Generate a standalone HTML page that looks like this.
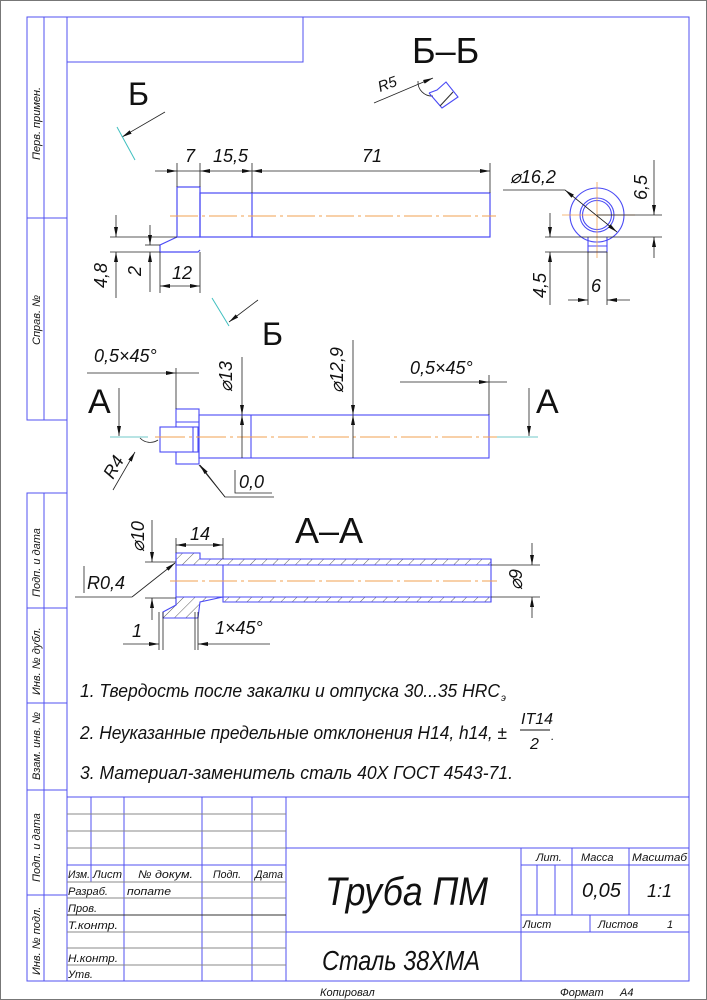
<!DOCTYPE html>
<html><head><meta charset="utf-8"><style>
html,body{margin:0;padding:0;background:#fff}
svg{display:block}
text{font-family:"Liberation Sans","Noto Sans CJK SC",sans-serif;font-style:italic;fill:#111}
</style></head><body>
<svg width="707" height="1000" viewBox="0 0 707 1000" xmlns="http://www.w3.org/2000/svg">
<defs>
<marker id="a" viewBox="0 0 10 4" refX="10" refY="2" markerWidth="10" markerHeight="4" orient="auto-start-reverse" markerUnits="userSpaceOnUse"><path d="M0,0L10,2L0,4z" fill="#111"/></marker>
<pattern id="h" patternUnits="userSpaceOnUse" width="8" height="8" patternTransform="rotate(45)"><line x1="0" y1="0" x2="0" y2="8" stroke="#333" stroke-width="0.8"/></pattern>
</defs>
<rect x="0.5" y="0.5" width="706" height="999" fill="none" stroke="#777"/>
<!-- frame -->
<g stroke="#5050f0" stroke-width="1" fill="none">
<rect x="67" y="17" width="622" height="964"/>
<rect x="67" y="17" width="236" height="45"/>
<rect x="27" y="17" width="40" height="403"/>
<line x1="44" y1="17" x2="44" y2="420"/>
<line x1="27" y1="218" x2="67" y2="218"/>
<rect x="27" y="493" width="40" height="488"/>
<line x1="44" y1="493" x2="44" y2="981"/>
<line x1="27" y1="608" x2="67" y2="608"/>
<line x1="27" y1="703" x2="67" y2="703"/>
<line x1="27" y1="790" x2="67" y2="790"/>
<line x1="27" y1="895" x2="67" y2="895"/>
</g>
<g font-size="11">
<text transform="translate(40,160) rotate(-90)">Перв. примен.</text>
<text transform="translate(40,345) rotate(-90)">Справ. №</text>
<text transform="translate(40,597) rotate(-90)">Подп. и дата</text>
<text transform="translate(40,695) rotate(-90)">Инв. № дубл.</text>
<text transform="translate(40,780) rotate(-90)">Взам. инв. №</text>
<text transform="translate(40,882) rotate(-90)">Подп. и дата</text>
<text transform="translate(40,975) rotate(-90)">Инв. № подл.</text>
</g>
<!-- title block -->
<g stroke="#5050f0" stroke-width="1" fill="none">
<line x1="67" y1="797" x2="689" y2="797"/>
<line x1="91" y1="797" x2="91" y2="882"/>
<line x1="124" y1="797" x2="124" y2="981"/>
<line x1="202" y1="797" x2="202" y2="981"/>
<line x1="252" y1="797" x2="252" y2="981"/>
<line x1="286" y1="797" x2="286" y2="981"/>
<line x1="286" y1="848" x2="689" y2="848"/>
<line x1="286" y1="932" x2="689" y2="932"/>
<line x1="521" y1="848" x2="521" y2="981"/>
<line x1="521" y1="865" x2="689" y2="865"/>
<line x1="521" y1="915" x2="689" y2="915"/>
<line x1="572" y1="848" x2="572" y2="915"/>
<line x1="629" y1="848" x2="629" y2="915"/>
<line x1="590" y1="915" x2="590" y2="932"/>
<line x1="537" y1="865" x2="537" y2="915"/>
<line x1="555" y1="865" x2="555" y2="915"/>
<line x1="67" y1="865" x2="286" y2="865"/>
</g>
<g stroke="#888" stroke-width="1">
<line x1="67" y1="814" x2="286" y2="814"/>
<line x1="67" y1="831" x2="286" y2="831"/>
<line x1="67" y1="848" x2="286" y2="848"/>
<line x1="67" y1="882" x2="286" y2="882"/>
<line x1="67" y1="898" x2="286" y2="898"/>
<line x1="67" y1="915" x2="286" y2="915" stroke="#333"/>
<line x1="67" y1="932" x2="286" y2="932"/>
<line x1="67" y1="948" x2="286" y2="948"/>
<line x1="67" y1="965" x2="286" y2="965"/>
</g>
<g font-size="11">
<text x="68" y="878" textLength="22" lengthAdjust="spacingAndGlyphs">Изм.</text>
<text x="93" y="878" textLength="29" lengthAdjust="spacingAndGlyphs">Лист</text>
<text x="138" y="878" textLength="55" lengthAdjust="spacingAndGlyphs">№ докум.</text>
<text x="213" y="878" textLength="28" lengthAdjust="spacingAndGlyphs">Подп.</text>
<text x="255" y="878" textLength="28" lengthAdjust="spacingAndGlyphs">Дата</text>
<text x="68" y="895" textLength="40" lengthAdjust="spacingAndGlyphs">Разраб.</text>
<text x="127" y="895" textLength="44" lengthAdjust="spacingAndGlyphs">попате</text>
<text x="68" y="912">Пров.</text>
<text x="68" y="929" textLength="50" lengthAdjust="spacingAndGlyphs">Т.контр.</text>
<text x="68" y="962" textLength="50" lengthAdjust="spacingAndGlyphs">Н.контр.</text>
<text x="68" y="978">Утв.</text>
<text x="536" y="861">Лит.</text>
<text x="581" y="861">Масса</text>
<text x="632" y="861" textLength="55" lengthAdjust="spacingAndGlyphs">Масштаб</text>
<text x="523" y="928">Лист</text>
<text x="598" y="928">Листов</text>
<text x="667" y="928">1</text>
<text x="320" y="996">Копировал</text>
<text x="560" y="996">Формат</text>
<text x="620" y="996">A4</text>
</g>
<text x="582" y="897" font-size="20">0,05</text>
<text x="647" y="897" font-size="18">1:1</text>
<text x="325" y="905" font-size="40" textLength="163" lengthAdjust="spacingAndGlyphs">Труба ПМ</text>
<text x="322" y="970" font-size="28" textLength="158" lengthAdjust="spacingAndGlyphs">Сталь 38ХМА</text>
<!-- notes -->
<g font-size="18">
<text x="80" y="697" textLength="420" lengthAdjust="spacingAndGlyphs">1.  Твердость после закалки и отпуска 30...35 HRC</text>
<text x="501" y="701" font-size="10">э</text>
<text x="80" y="739" textLength="427" lengthAdjust="spacingAndGlyphs">2.  Неуказанные предельные отклонения H14, h14, ±</text>
<text x="521" y="724" font-size="16">IT14</text>
<line x1="520" y1="730" x2="550" y2="730" stroke="#111"/>
<text x="530" y="749" font-size="16">2</text>
<text x="551" y="740" font-size="12">.</text>
<text x="80" y="779" textLength="433" lengthAdjust="spacingAndGlyphs">3.  Материал-заменитель сталь 40Х ГОСТ 4543-71.</text>
</g>
<!-- top view -->
<g stroke="#4a4af5" stroke-width="1.2" fill="none">
<rect x="177" y="187" width="23" height="50"/>
<rect x="200" y="193" width="290" height="44"/>
<line x1="252" y1="193" x2="252" y2="237"/>
<polyline points="177,237 160,245 160,252 198,252 200,250"/>
</g>
<line x1="170" y1="216" x2="496" y2="216" stroke="#f0a050" stroke-dasharray="28,4,3,4"/>
<g stroke="#222" stroke-width="0.8" fill="none">
<line x1="177" y1="163" x2="177" y2="187"/>
<line x1="200" y1="163" x2="200" y2="187"/>
<line x1="252" y1="163" x2="252" y2="193"/>
<line x1="490" y1="163" x2="490" y2="193"/>
<line x1="155" y1="171" x2="177" y2="171" marker-end="url(#a)"/>
<line x1="177" y1="171" x2="200" y2="171"/>
<line x1="200" y1="171" x2="252" y2="171" marker-start="url(#a)" marker-end="url(#a)"/>
<line x1="252" y1="171" x2="490" y2="171" marker-start="url(#a)" marker-end="url(#a)"/>
<line x1="110" y1="237" x2="177" y2="237"/>
<line x1="110" y1="252" x2="160" y2="252"/>
<line x1="145" y1="245" x2="160" y2="245"/>
<line x1="116" y1="215" x2="116" y2="237" marker-end="url(#a)"/>
<line x1="116" y1="252" x2="116" y2="298" marker-start="url(#a)"/>
<line x1="150" y1="225" x2="150" y2="245" marker-end="url(#a)"/>
<line x1="150" y1="252" x2="150" y2="292" marker-start="url(#a)"/>
<line x1="160" y1="252" x2="160" y2="293"/>
<line x1="200" y1="252" x2="200" y2="293"/>
<line x1="160" y1="286" x2="200" y2="286" marker-start="url(#a)" marker-end="url(#a)"/>
<line x1="165" y1="112" x2="122" y2="137" marker-end="url(#a)"/>
<line x1="258" y1="300" x2="229" y2="322" marker-end="url(#a)"/>
</g>
<g stroke="#40c0c0"><line x1="117" y1="127" x2="135" y2="160"/><line x1="212" y1="298" x2="229" y2="326"/></g>
<g font-size="18">
<text x="185" y="162">7</text>
<text x="213" y="162">15,5</text>
<text x="362" y="162">71</text>
<text x="172" y="279">12</text>
<text transform="translate(107,288) rotate(-90)">4,8</text>
<text transform="translate(141,276) rotate(-90)">2</text>
</g>
<text x="128" y="105" font-size="32" style="font-style:normal">Б</text>
<text x="262" y="345" font-size="32" style="font-style:normal">Б</text>
<!-- B-B -->
<text x="412" y="63" font-size="36" style="font-style:normal">Б–Б</text>
<text transform="translate(380,92) rotate(-20)" font-size="15">R5</text>
<line x1="374" y1="103" x2="433" y2="78" stroke="#222" stroke-width="0.8" marker-end="url(#a)"/>
<path d="M418,81 A14,14 0 0 0 433,96" stroke="#222" fill="none" stroke-width="0.8"/>
<g stroke="#4a4af5" fill="none" stroke-width="1.1"><polyline points="429,93 437,90 446,82 458,97 442,108 429,93"/><line x1="440" y1="106" x2="453" y2="92" stroke="#333"/></g>
<g stroke="#4a4af5" fill="none" stroke-width="1.1">
<circle cx="597" cy="215" r="27"/>
<circle cx="597" cy="215" r="17"/>
<circle cx="597" cy="215" r="14.5"/>
<polyline points="588,237 588,252 607,252 607,237"/>
<line x1="588" y1="246" x2="607" y2="246"/>
</g>
<g stroke="#f0a050" stroke-width="0.8"><line x1="562" y1="215" x2="635" y2="215"/><line x1="597" y1="182" x2="597" y2="258"/></g>
<g stroke="#222" stroke-width="0.8" fill="none">
<line x1="597" y1="215" x2="662" y2="215"/>
<line x1="545" y1="237" x2="662" y2="237"/>
<line x1="545" y1="252" x2="607" y2="252"/>
<line x1="654" y1="160" x2="654" y2="215" marker-end="url(#a)"/>
<line x1="654" y1="237" x2="654" y2="258" marker-start="url(#a)"/>
<line x1="550" y1="213" x2="550" y2="237" marker-end="url(#a)"/>
<line x1="550" y1="252" x2="550" y2="305" marker-start="url(#a)"/>
<line x1="588" y1="252" x2="588" y2="305"/>
<line x1="607" y1="252" x2="607" y2="305"/>
<line x1="568" y1="300" x2="588" y2="300" marker-end="url(#a)"/>
<line x1="607" y1="300" x2="630" y2="300" marker-start="url(#a)"/>
<polyline points="503,190 565,190 617,232" />
<line x1="565" y1="190" x2="617" y2="232" marker-start="url(#a)" marker-end="url(#a)"/>
</g>
<g font-size="18">
<text x="510" y="183">⌀16,2</text>
<text transform="translate(647,200) rotate(-90)">6,5</text>
<text transform="translate(546,298) rotate(-90)">4,5</text>
<text x="591" y="292">6</text>
</g>
<!-- middle view -->
<g stroke="#4a4af5" stroke-width="1.1" fill="none">
<rect x="176" y="409" width="23" height="55"/>
<line x1="176" y1="422" x2="199" y2="422"/>
<line x1="176" y1="452" x2="199" y2="452"/>
<rect x="160" y="427" width="38" height="25" fill="#fff"/>
<line x1="193" y1="427" x2="193" y2="452"/>
<rect x="199" y="415" width="290" height="43"/>
<line x1="251" y1="415" x2="251" y2="458"/>
</g>
<line x1="155" y1="437" x2="497" y2="437" stroke="#f0a050" stroke-dasharray="30,4,3,4"/>
<g stroke="#70c8c8"><line x1="110" y1="437" x2="148" y2="437"/><line x1="497" y1="437" x2="538" y2="437"/></g>
<g stroke="#222" stroke-width="0.8" fill="none">
<line x1="119" y1="388" x2="119" y2="436" marker-end="url(#a)"/>
<line x1="529" y1="388" x2="529" y2="436" marker-end="url(#a)"/>
<line x1="242" y1="357" x2="242" y2="415" marker-end="url(#a)"/>
<line x1="242" y1="415" x2="242" y2="458" marker-start="url(#a)"/>
<line x1="353" y1="340" x2="353" y2="415" marker-end="url(#a)"/>
<line x1="353" y1="415" x2="353" y2="458" marker-start="url(#a)"/>
<line x1="87" y1="373" x2="176" y2="373" marker-end="url(#a)"/>
<line x1="199" y1="373" x2="176" y2="373"/>
<line x1="176" y1="368" x2="176" y2="409"/>
<line x1="400" y1="382" x2="489" y2="382" marker-end="url(#a)"/>
<line x1="507" y1="382" x2="489" y2="382"/>
<line x1="489" y1="375" x2="489" y2="415"/>
<path d="M140,438 A14,14 0 0 0 158,440" />
<line x1="113" y1="490" x2="135" y2="452" marker-end="url(#a)"/>
<polyline points="274,497 225,497 199,465"/>
<line x1="225" y1="497" x2="200" y2="465" marker-end="url(#a)"/>
<polyline points="235,470 235,493 272,493"/>
</g>
<g font-size="18">
<text x="94" y="362">0,5×45°</text>
<text x="410" y="374">0,5×45°</text>
<text transform="translate(232,392) rotate(-90)">⌀13</text>
<text transform="translate(343,393) rotate(-90)">⌀12,9</text>
<text transform="translate(113,480) rotate(-60)">R4</text>
<text x="239" y="488">0,0</text>
</g>
<text x="88" y="413" font-size="34" style="font-style:normal">A</text>
<text x="536" y="413" font-size="34" style="font-style:normal">A</text>
<!-- A-A -->
<text x="295" y="543" font-size="36" style="font-style:normal">A–A</text>
<g stroke="#4a4af5" stroke-width="1.1">
<path d="M176,553 L200,553 L200,559 L491,559 L491,565 L176,565 Z" fill="url(#h)"/>
<path d="M223,597 L491,597 L491,602 L223,602 Z M176,597 L223,597 L200,602 L198,618 L163,618 L163,612 L176,605 Z" fill="url(#h)"/>
<line x1="176" y1="553" x2="176" y2="605" fill="none"/>
<line x1="223" y1="565" x2="223" y2="597"/>
<line x1="491" y1="559" x2="491" y2="602"/>
<line x1="176" y1="565" x2="491" y2="565"/>
<line x1="176" y1="597" x2="491" y2="597"/>
</g>
<line x1="170" y1="581" x2="497" y2="581" stroke="#f0a050" stroke-dasharray="28,4,3,4"/>
<g stroke="#222" stroke-width="0.8" fill="none">
<line x1="491" y1="565" x2="540" y2="565"/>
<line x1="491" y1="597" x2="540" y2="597"/>
<line x1="532" y1="543" x2="532" y2="565" marker-end="url(#a)"/>
<line x1="532" y1="597" x2="532" y2="618" marker-start="url(#a)"/>
<line x1="145" y1="562" x2="176" y2="562"/>
<line x1="145" y1="598" x2="176" y2="598"/>
<line x1="152" y1="520" x2="152" y2="562" marker-end="url(#a)"/>
<line x1="152" y1="598" x2="152" y2="620" marker-start="url(#a)"/>
<line x1="176" y1="538" x2="176" y2="553"/>
<line x1="223" y1="538" x2="223" y2="559"/>
<line x1="176" y1="545" x2="223" y2="545" marker-start="url(#a)" marker-end="url(#a)"/>
<polyline points="75,597 132,597"/>
<line x1="132" y1="597" x2="175" y2="563" marker-end="url(#a)"/>
<line x1="84" y1="566" x2="84" y2="593"/>
<line x1="159" y1="612" x2="159" y2="650"/>
<line x1="163" y1="612" x2="163" y2="650"/>
<line x1="195" y1="612" x2="195" y2="650"/>
<line x1="198" y1="612" x2="198" y2="650"/>
<line x1="123" y1="644" x2="159" y2="644" marker-end="url(#a)"/>
<line x1="198" y1="644" x2="270" y2="644" marker-start="url(#a)"/>
</g>
<g font-size="18">
<text x="190" y="540">14</text>
<text x="87" y="589">R0,4</text>
<text transform="translate(144,552) rotate(-90)">⌀10</text>
<text transform="translate(522,590) rotate(-90)">⌀9</text>
<text x="132" y="637">1</text>
<text x="215" y="634">1×45°</text>
</g>
</svg>
</body></html>
